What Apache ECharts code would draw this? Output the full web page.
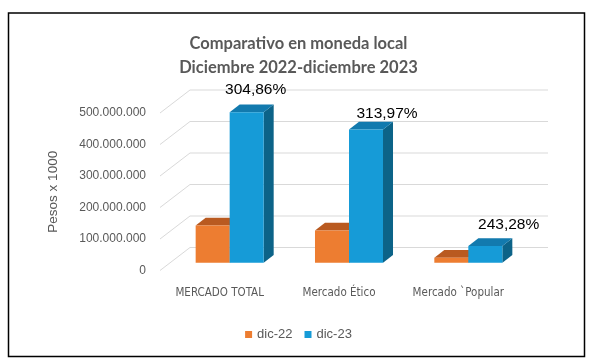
<!DOCTYPE html>
<html><head><meta charset="utf-8">
<script src="https://cdn.jsdelivr.net/npm/echarts@6/dist/echarts.min.js"></script>
<style>html,body{margin:0;padding:0;background:#fff}#c{width:597px;height:362px}</style>
</head><body><div id="c"></div>
<script>
const categories = ['MERCADO TOTAL', 'Mercado Ético', 'Mercado `Popular'];
const seriesNames = ['dic-22', 'dic-23'];
const dic22 = [118000000, 102000000, 15500000];
const dic23 = [478000000, 423000000, 53000000];
const growthLabels = ['304,86%', '313,97%', '243,28%'];
const yTicks = [0, 100000000, 200000000, 300000000, 400000000, 500000000];
const yTickLabels = ['0', '100.000.000', '200.000.000', '300.000.000', '400.000.000', '500.000.000'];
const titleLines = ['Comparativo en moneda local', 'Diciembre 2022-diciembre 2023'];
const yAxisName = 'Pesos x 1000';

// ---- styling / 3D geometry ----
const WALL_DX = 30, WALL_DY = -23;
const BAR_OFF_DX = 10, BAR_OFF_DY = -7.8;
const BAR_DEPTH_DX = 10, BAR_DEPTH_DY = -7.7;
const BAR_WIDTH_RATIO = 0.285;
const labelShift = [[-1, -14.6], [11, -8.3], [13.3, -13.6]];
const palette = {
  'dic-22': {front: '#ED7D31', top: '#B95A20', side: '#A44F1B'},
  'dic-23': {front: '#169BD7', top: '#127AAE', side: '#0C6388'}
};

function barRender(values, side, name, withLabels) {
  return function (params, api) {
    const i = params.dataIndex;
    const v = values[i];
    const base = api.coord([i, 0]);
    const topP = api.coord([i, v]);
    const bw = api.size([1, 0])[0] * BAR_WIDTH_RATIO;
    const cx = base[0] + BAR_OFF_DX;
    const x0 = side < 0 ? cx - bw : cx;
    const x1 = x0 + bw;
    const yb = base[1] + BAR_OFF_DY;
    const yt = topP[1] + BAR_OFF_DY;
    const c = palette[name];
    const ddx = BAR_DEPTH_DX, ddy = BAR_DEPTH_DY;
    const children = [
      {type: 'polygon', shape: {points: [[x1, yb], [x1 + ddx, yb + ddy], [x1 + ddx, yt + ddy], [x1, yt]]}, style: {fill: c.side}},
      {type: 'polygon', shape: {points: [[x0, yt], [x1, yt], [x1 + ddx, yt + ddy], [x0 + ddx, yt + ddy]]}, style: {fill: c.top}},
      {type: 'rect', shape: {x: x0, y: yt, width: bw, height: yb - yt}, style: {fill: c.front}}
    ];
    if (withLabels) {
      children.push({type: 'text', style: {
        text: growthLabels[i],
        x: (x0 + x1) / 2 + ddx + labelShift[i][0],
        y: yt + ddy + labelShift[i][1],
        align: 'center', verticalAlign: 'middle',
        font: '15.5px "Liberation Sans", Arial, sans-serif', fill: '#000'
      }});
    }
    return {type: 'group', children: children};
  };
}

function gridRender(params, api) {
  const v = api.value(1);
  const p = api.coord([0, v]);
  const cs = params.coordSys;
  const x = cs.x, w = cs.width, y = p[1];
  return {type: 'polyline', shape: {points: [[x, y], [x + WALL_DX, y + WALL_DY], [x + w + WALL_DX, y + WALL_DY]]},
          style: {stroke: '#D9D9D9', lineWidth: 1, fill: null}};
}

const chart = echarts.init(document.getElementById('c'), null, {renderer: 'canvas'});
chart.setOption({
  animation: false,
  backgroundColor: '#fff',
  title: {
    text: titleLines.join('\n'),
    left: 'center', top: 27,
    textStyle: {fontFamily: 'Lato, "Open Sans", sans-serif', fontWeight: 'bold', fontSize: 16.5, color: '#595959', lineHeight: 24}
  },
  legend: {
    data: seriesNames,
    left: 'center', top: 323,
    icon: 'rect', itemWidth: 7, itemHeight: 7, itemGap: 12,
    textStyle: {fontFamily: '"Liberation Sans", Arial, sans-serif', fontSize: 13, color: '#595959'}
  },
  grid: {left: 160, right: 79, top: 113, bottom: 91.5},
  xAxis: {
    type: 'category', data: categories,
    axisLine: {show: false}, axisTick: {show: false}, splitLine: {show: false},
    axisLabel: {interval: 0, margin: 17, fontFamily: '"DejaVu Sans Condensed", "Liberation Sans Narrow", "Arial Narrow", "Liberation Sans", sans-serif', fontSize: 11.5, color: '#595959'}
  },
  yAxis: {
    type: 'value', min: 0, max: 500000000, interval: 100000000,
    name: yAxisName, nameLocation: 'middle', nameGap: 100,
    nameTextStyle: {fontFamily: '"Liberation Sans", Arial, sans-serif', fontSize: 13.5, color: '#595959'},
    axisLine: {show: false}, axisTick: {show: false}, splitLine: {show: false},
    axisLabel: {margin: 14, fontFamily: '"Liberation Sans", Arial, sans-serif', fontSize: 12, color: '#595959',
      formatter: function (val) { const k = yTicks.indexOf(val); return k >= 0 ? yTickLabels[k] : ''; }}
  },
  graphic: [{type: 'rect', shape: {x: 8.5, y: 13, width: 576, height: 343.5}, style: {fill: null, stroke: '#000', lineWidth: 1.5}, silent: true}],
  series: [
    {type: 'custom', name: 'grid', clip: false, silent: true, renderItem: gridRender, data: yTicks.map(v => [0, v]), z: 1},
    {type: 'custom', name: seriesNames[0], clip: false, itemStyle: {color: palette['dic-22'].front},
     renderItem: barRender(dic22, -1, 'dic-22', false), data: dic22.map((v, i) => [i, v]), z: 2},
    {type: 'custom', name: seriesNames[1], clip: false, itemStyle: {color: palette['dic-23'].front},
     renderItem: barRender(dic23, 1, 'dic-23', true), data: dic23.map((v, i) => [i, v]), z: 3}
  ]
});
</script></body></html>
